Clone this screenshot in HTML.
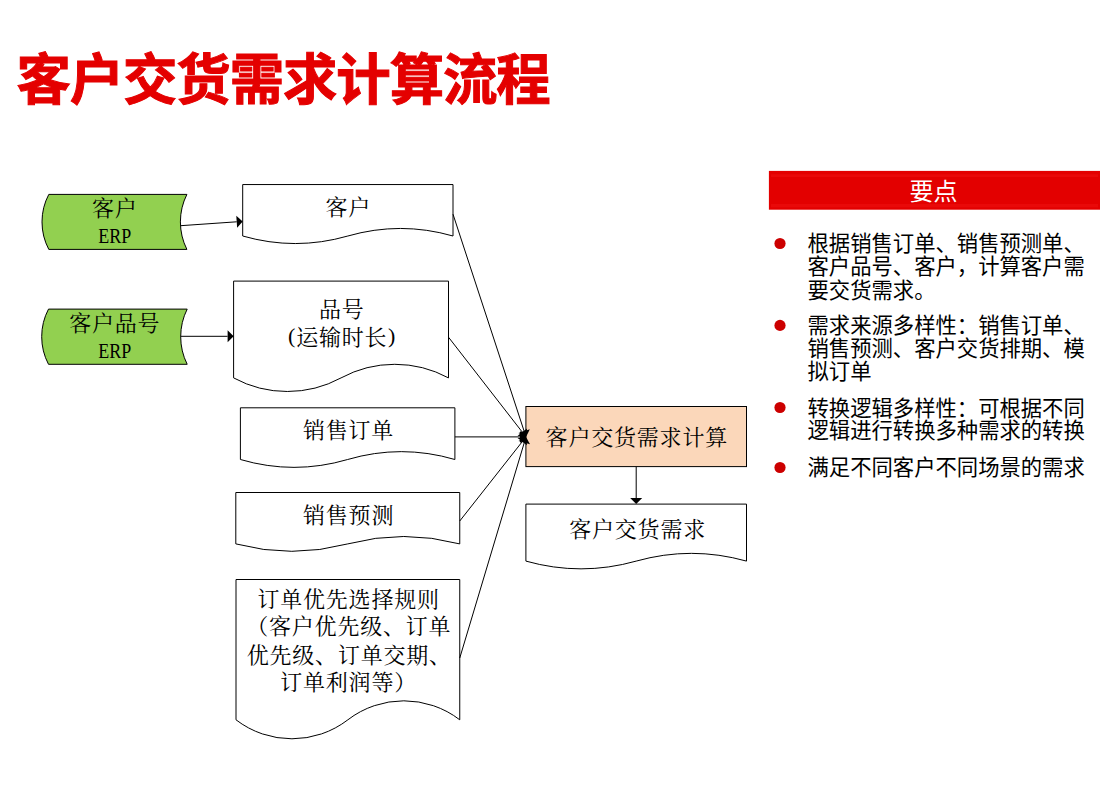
<!DOCTYPE html>
<html><head><meta charset="utf-8"><title>客户交货需求计算流程</title>
<style>html,body{margin:0;padding:0;background:#fff;font-family:"Liberation Sans",sans-serif}svg{display:block}</style>
</head><body>
<svg width="1120" height="800" viewBox="0 0 1120 800">
<rect width="1120" height="800" fill="#fff"/>
<g stroke="#000" stroke-width="1" stroke-linejoin="miter">
<path d="M48.8 194.4H186.9A61.42 61.42 0 0 0 186.9 249.4H48.8A59.01 59.01 0 0 1 48.8 194.4Z" fill="#92d050"/>
<path d="M48.5 309.1H187.2A61.85 61.85 0 0 0 187.2 364.3H48.5A59.41 59.41 0 0 1 48.5 309.1Z" fill="#92d050"/>
<path d="M242.7 184.55H453V236A190.47 190.47 0 0 0 347.85 236A190.47 190.47 0 0 1 242.7 236Z" fill="#fff"/>
<path d="M233.6 281.1H448.5V377.9A112.92 112.92 0 0 0 341.05 377.9A112.92 112.92 0 0 1 233.6 377.9Z" fill="#fff"/>
<path d="M240.4 407.8H454.9V459.5A190.58 190.58 0 0 0 347.65 459.5A190.58 190.58 0 0 1 240.4 459.5Z" fill="#fff"/>
<path d="M235.8 492.5H459.75V543.9A218.35 218.35 0 0 0 347.77 543.9A218.35 218.35 0 0 1 235.8 543.9Z" fill="#fff"/>
<path d="M236 579.5H459.75V719.8A91.84 91.84 0 0 0 347.88 719.8A91.84 91.84 0 0 1 236 719.8Z" fill="#fff"/>
<path d="M525.9 504.1H746.5V561.1A203.9 203.9 0 0 0 636.2 561.1A203.9 203.9 0 0 1 525.9 561.1Z" fill="#fff"/>
<rect x="525.9" y="406.5" width="220.6" height="60.1" fill="#fbd7ba"/>
</g>
<g stroke="#000" stroke-width="1" fill="none">
<path d="M453 214.2L524.13 431.2"/>
<path d="M526 436.9L518.43 433.07L529.83 429.33Z" fill="#000" stroke="none"/>
<path d="M448.5 337.2L522.32 432.16"/>
<path d="M526 436.9L517.58 435.85L527.05 428.48Z" fill="#000" stroke="none"/>
<path d="M454.9 436.9L520 436.9"/>
<path d="M526 436.9L520 442.9L520 430.9Z" fill="#000" stroke="none"/>
<path d="M459.75 521L522.29 441.61"/>
<path d="M526 436.9L527 445.33L517.57 437.9Z" fill="#000" stroke="none"/>
<path d="M459.75 658L524.28 442.65"/>
<path d="M526 436.9L530.03 444.37L518.53 440.93Z" fill="#000" stroke="none"/>
<path d="M180.6 225.7L236.71 221.81"/>
<path d="M242.7 221.4L237.13 227.8L236.3 215.83Z" fill="#000" stroke="none"/>
<path d="M180.5 336.3L227.6 336.3"/>
<path d="M233.6 336.3L227.6 342.3L227.6 330.3Z" fill="#000" stroke="none"/>
<path d="M636.2 466.6L636.2 498.1"/>
<path d="M636.2 504.1L630.2 498.1L642.2 498.1Z" fill="#000" stroke="none"/>
</g>
<g fill="#000" font-family="&quot;Liberation Serif&quot;, &quot;Noto Serif CJK SC&quot;, serif" font-size="22" letter-spacing="0.8">
<text x="92" y="215.99">客户</text>
<text x="69.2" y="330.99">客户品号</text>
<text x="325.5" y="215.19">客户</text>
<text x="319" y="317.49">品号</text>
<text x="296.2" y="345.29">运输时长</text>
<text x="288" y="342.56" letter-spacing="0">(</text>
<text x="388" y="342.56" letter-spacing="0">)</text>
<text x="302.9" y="437.79">销售订单</text>
<text x="303" y="523.09">销售预测</text>
<text x="257.4" y="607.19">订单优先选择规则</text>
<text x="246.2" y="634.49">（客户优先级、订单</text>
<text x="246.7" y="663.29">优先级、订单交期、</text>
<text x="280.2" y="690.29">订单利润等）</text>
<text x="545.6" y="445.09">客户交货需求计算</text>
<text x="569.2" y="537.29">客户交货需求</text>
<text x="98.2" y="242.8" font-size="21.5" letter-spacing="0" textLength="33" lengthAdjust="spacingAndGlyphs">ERP</text>
<text x="98.2" y="357.8" font-size="21.5" letter-spacing="0" textLength="33" lengthAdjust="spacingAndGlyphs">ERP</text>
</g>
<text x="16.4" y="99.3" font-family="&quot;Liberation Sans&quot;, &quot;Noto Sans CJK SC&quot;, sans-serif" font-size="54.4" font-weight="bold" letter-spacing="-1.07" fill="#e40000" stroke="#e40000" stroke-width="1" stroke-linejoin="miter">客户交货需求计算流程</text>
<rect x="768.9" y="170.9" width="331.1" height="38.8" fill="#e30000"/>
<rect x="771" y="174.3" width="327" height="2.8" fill="#ee1010" opacity=".55"/><rect x="771" y="204" width="327" height="3.4" fill="#ee1010" opacity=".55"/>
<text x="909.4" y="200" font-family="&quot;Liberation Sans&quot;, &quot;Noto Sans CJK SC&quot;, sans-serif" font-size="24" fill="#fff">要点</text>
<circle cx="780" cy="243.5" r="5.6" fill="#c00"/>
<g fill="#000" font-family="&quot;Liberation Sans&quot;, &quot;Noto Sans CJK SC&quot;, sans-serif" font-size="21.33">
<text x="807.5" y="250.7">根据销售订单、销售预测单、</text>
<text x="807.5" y="273.8">客户品号、客户，计算客户需</text>
<text x="807.5" y="297.5">要交货需求。</text>
<text x="807.5" y="333.1">需求来源多样性：销售订单、</text>
<text x="807.5" y="355.6">销售预测、客户交货排期、模</text>
<text x="807.5" y="378.7">拟订单</text>
<text x="807.5" y="415.7">转换逻辑多样性：可根据不同</text>
<text x="807.5" y="438.2">逻辑进行转换多种需求的转换</text>
<text x="807.5" y="475.1">满足不同客户不同场景的需求</text>
</g>
<circle cx="780" cy="325.4" r="5.6" fill="#c00"/>
<circle cx="780" cy="407.5" r="5.6" fill="#c00"/>
<circle cx="780" cy="467.5" r="5.6" fill="#c00"/>
</svg>
</body></html>
